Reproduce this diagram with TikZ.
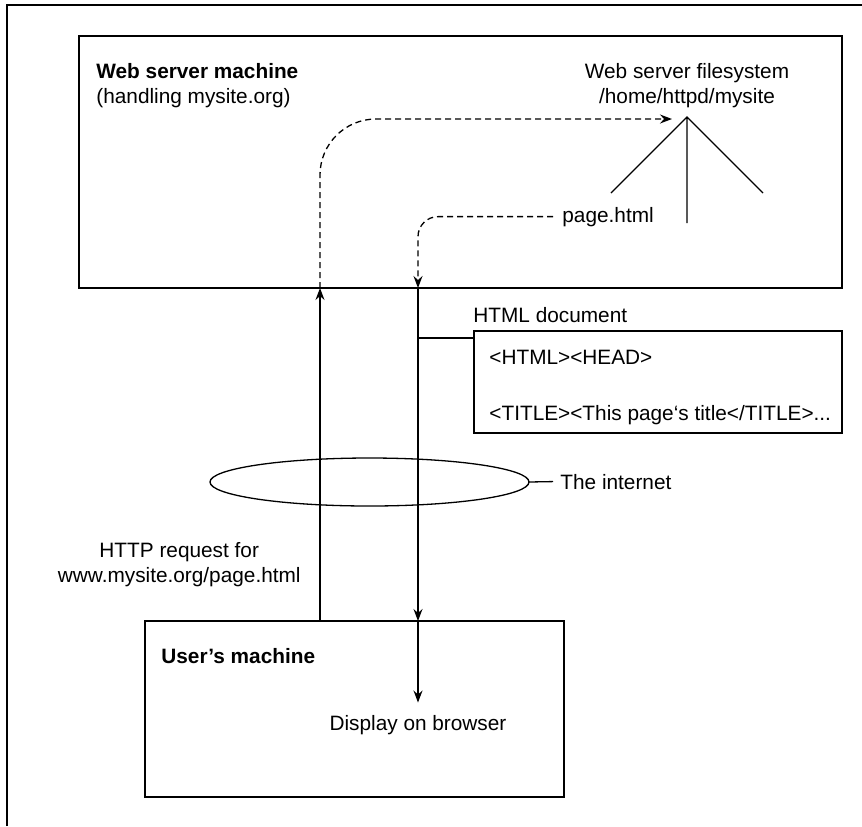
\documentclass[tikz,border=0pt]{standalone}
\usepackage{fontspec}
\setmainfont{Liberation Sans}
\usetikzlibrary{arrows.meta,shapes.geometric,calc}

\tikzset{
  lbl/.style={font=\fontsize{10.4}{12.5}\selectfont, inner sep=0pt},
  boldlbl/.style={lbl, font=\fontsize{10.4}{12.5}\selectfont\bfseries},
  machine/.style={draw, line width=1pt, inner sep=0pt, outer sep=0pt},
  link/.style={line width=0.65pt},
  flow/.style={link, dash pattern=on 3pt off 2pt},
  >={Stealth[length=6pt,width=4.5pt,inset=2pt]}
}

\begin{document}
\begin{tikzpicture}[x=0.5pt,y=-0.5pt]
\useasboundingbox (0,0) rectangle (862,826);
\draw[line width=1pt] (7,826) -- (7,5) -- (862,5);

% the two machines and the net
\node[machine, minimum width=381.5pt, minimum height=126pt] (server) at (460.5,162) {};
\node[machine, minimum width=184pt, minimum height=51pt] (html) at (658,382) {};
\node[machine, minimum width=209.5pt, minimum height=88pt] (user) at (354.5,709) {};
\node[draw, ellipse, link, inner sep=0pt, outer sep=0pt,
      minimum width=159.5pt, minimum height=24pt] (net) at (369.5,482) {};

% labels
\node[boldlbl, anchor=base west] (srvname) at (96,78) {Web server machine};
\node[lbl, anchor=base west] (srvhost) at (96,103) {(handling mysite.org)};
\node[lbl, anchor=base] (fsname) at (687,78) {Web server filesystem};
\node[lbl, anchor=base] (fspath) at (687,103) {/home/httpd/mysite};
\node[lbl, anchor=base west] (page) at (562,222) {page.html};
\node[lbl, anchor=base west] (doc) at (473,322) {HTML document};
\node[lbl, anchor=base west] (head) at (489,364) {<HTML><HEAD>};
\node[lbl, anchor=base west] (title) at (489,420) {<TITLE><This page‘s title</TITLE>...};
\node[lbl, anchor=base west] (inet) at (560,489) {The internet};
\node[lbl, anchor=base east] (req2) at (301,582) {www.mysite.org/page.html};
\node[lbl, anchor=base] (req1) at ($(req2.base)+(0,-25)$) {HTTP request for};
\node[boldlbl, anchor=base west] (usrname) at (161,663) {User’s machine};
\node[lbl, anchor=base] (disp) at (418,730) {Display on browser};

% filesystem tree
\coordinate (root) at (687,117);
\coordinate (leafl) at (611,193);
\coordinate (leafr) at (763,193);
\coordinate (leafm) at (687,223);
\draw[link] (leafl) -- (root) -- (leafr) (root) -- (leafm);

% request and response
\coordinate (reqx) at (320,500);
\coordinate (respx) at (418,500);
\coordinate (branch) at ($(html.north west)+(0,7)$);
\draw[link,->] (user.north -| reqx) -- (server.south -| reqx);
\draw[flow,->,rounded corners=28pt] (server.south -| reqx) |- ($(root)+(-15,2)$);
\draw[flow,->,rounded corners=10pt] ([xshift=-4.5pt]page.west) -| (server.south -| respx);
\draw[link,->] (server.south -| respx) -- (user.north -| respx);
\draw[link,->] (user.north -| respx) -- ([yshift=6pt]disp.north);
\draw[link] (respx |- branch) -- (branch);
\draw[link] (net.east) -- ([xshift=-3.5pt]inet.west);
\end{tikzpicture}
\end{document}
